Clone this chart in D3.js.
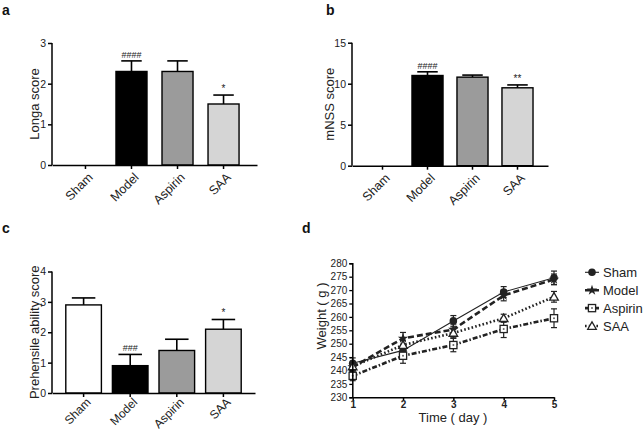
<!DOCTYPE html>
<html><head><meta charset="utf-8">
<script src="https://cdn.jsdelivr.net/npm/d3@7"></script>
<style>body{margin:0;background:#fff}svg{display:block;font-family:"Liberation Sans",Arial,sans-serif}</style>
</head><body><svg id="c" width="644" height="433"></svg>
<script>
const groups = ["Sham","Model","Aspirin","SAA"];
const barFills = ["#ffffff","#000000","#9b9b9b","#d5d5d5"];
const longaMean = [0, 2.3, 2.3, 1.5];
const longaErr  = [0, 0.26, 0.26, 0.22];
const longaMarks = ["","####","","*"];
const mnssMean = [0, 11.0, 10.8, 9.5];
const mnssErr  = [0, 0.45, 0.25, 0.35];
const mnssMarks = ["","####","","**"];
const prehMean = [2.9, 0.9, 1.4, 2.1];
const prehErr  = [0.23, 0.37, 0.37, 0.32];
const prehMarks = ["","###","","*"];
const days = [1,2,3,4,5];
const shamW = [242.7, 247.5, 258.5, 269.3, 274.6];
const shamE = [2, 2, 2, 2, 2.5];
const modelW = [241.3, 252.0, 255.3, 268.0, 274.0];
const modelE = [1.5, 2.2, 2, 2, 2];
const aspirinW = [238.0, 245.5, 249.5, 255.5, 259.5];
const aspirinE = [1.8, 2.8, 2.5, 3.2, 3.5];
const saaW = [241.5, 249.5, 254.0, 259.5, 267.5];
const saaE = [1.5, 1.8, 1.8, 1.5, 2];
const yTicksA = [0,1,2,3], yTicksB = [0,5,10,15], yTicksC = [0,1,2,3,4];
const yTicksD = [230,235,240,245,250,255,260,265,270,275,280];

const FONT = '"Liberation Sans",Arial,sans-serif';
const svg = d3.select("#c");

function barPanel(o){
  const g = svg.append("g");
  const x = d3.scaleBand().domain(groups).range([o.x0,o.x1]).paddingInner(o.pi).paddingOuter(o.po);
  const y = d3.scaleLinear().domain([0,o.max]).range([o.yb,o.yt]);
  groups.forEach((k,i)=>{
    if(o.mean[i] <= 0) return;
    const bx = x(k), bw = x.bandwidth(), cx = bx + bw/2;
    const top = y(o.mean[i]+o.err[i]);
    g.append("line").attr("x1",cx).attr("x2",cx).attr("y1",y(o.mean[i])).attr("y2",top).attr("stroke","#000").attr("stroke-width",1.6);
    g.append("line").attr("x1",cx-bw*0.33).attr("x2",cx+bw*0.33).attr("y1",top).attr("y2",top).attr("stroke","#000").attr("stroke-width",1.6);
    g.append("rect").attr("x",bx).attr("y",y(o.mean[i])).attr("width",bw).attr("height",y(0)-y(o.mean[i]))
      .attr("fill",barFills[i]).attr("stroke","#000").attr("stroke-width",1.4);
    if(o.marks[i]) g.append("text").attr("x",cx).attr("y",top-3).attr("text-anchor","middle")
      .attr("font-size",o.marks[i].startsWith("#")?9:10).attr("fill","#222").text(o.marks[i]);
  });
  const ya = g.append("g").attr("transform",`translate(${o.x0},0)`).call(d3.axisLeft(y).tickValues(o.ticks).tickFormat(d3.format("d")).tickSize(4).tickPadding(2));
  ya.attr("font-family",FONT);
  ya.select(".domain").attr("stroke-width",1.5).attr("d",`M-0,${o.yt}V${o.yb}`);
  ya.selectAll(".tick line").attr("stroke-width",1.5);
  ya.selectAll("text").attr("font-size",10.5).attr("fill","#222");
  const xa = g.append("g").attr("transform",`translate(0,${o.yb})`).call(d3.axisBottom(x).tickSize(4).tickSizeOuter(0));
  xa.attr("font-family",FONT);
  xa.select(".domain").attr("stroke-width",1.5);
  xa.selectAll(".tick line").attr("stroke-width",1.5);
  xa.selectAll("text").attr("font-size",o.lfs).attr("fill","#222").attr("text-anchor","end")
    .attr("y",0).attr("dy","0.35em").attr("transform",`translate(5,${o.loff}) rotate(-45)`);
  g.append("text").attr("transform",`translate(${o.lx},${(o.yt+o.yb)/2}) rotate(-90)`).attr("text-anchor","middle")
    .attr("font-size",13).attr("fill","#222").text(o.title);
  g.append("text").attr("x",o.px).attr("y",o.py).attr("font-size",14).attr("font-weight","bold").attr("fill","#111").text(o.letter);
}

barPanel({x0:52,x1:257,pi:0.326,po:0.39,max:3,yb:165,yt:43,mean:longaMean,err:longaErr,marks:longaMarks,ticks:yTicksA,title:"Longa score",lx:39,letter:"a",px:2,py:15,lfs:12.5,loff:10});
barPanel({x0:352,x1:548,pi:0.31,po:0.333,max:15,yb:165.7,yt:42.7,mean:mnssMean,err:mnssErr,marks:mnssMarks,ticks:yTicksB,title:"mNSS score",lx:334,letter:"b",px:326,py:15,lfs:12.5,loff:10});
barPanel({x0:52,x1:255,pi:0.236,po:0.296,max:4,yb:393,yt:271.5,mean:prehMean,err:prehErr,marks:prehMarks,ticks:yTicksC,title:"Prehensile ability score",lx:39,letter:"c",px:2,py:233,lfs:12,loff:7});

(function(){
  const g = svg.append("g");
  const x = d3.scaleLinear().domain([1,5]).range([352.7,554]);
  const y = d3.scaleLinear().domain([230,280]).range([397.3,263.3]);
  const series = [
    {name:"Sham",v:shamW,e:shamE,dash:null,w:1.1,m:"circle"},
    {name:"Model",v:modelW,e:modelE,dash:"6,3",w:2.6,m:"star"},
    {name:"Aspirin",v:aspirinW,e:aspirinE,dash:"5,2,1.5,2",w:2.6,m:"square"},
    {name:"SAA",v:saaW,e:saaE,dash:"1.6,2.2",w:2.6,m:"triangle"}
  ];
  const line = d3.line().x((d,i)=>x(days[i])).y(d=>y(d));
  function marker(sel, type, cx, cy){
    if(type==="circle") sel.append("circle").attr("cx",cx).attr("cy",cy).attr("r",3.8).attr("fill","#222");
    else if(type==="star") sel.append("path").attr("d",d3.symbol(d3.symbolStar,34)()).attr("transform",`translate(${cx},${cy})`).attr("fill","#222");
    else if(type==="square"){ sel.append("rect").attr("x",cx-3.6).attr("y",cy-3.6).attr("width",7.2).attr("height",7.2).attr("fill","#fff").attr("stroke","#222").attr("stroke-width",1.3);
      sel.append("circle").attr("cx",cx).attr("cy",cy).attr("r",1).attr("fill","#666"); }
    else sel.append("path").attr("d",d3.symbol(d3.symbolTriangle,32)()).attr("transform",`translate(${cx},${cy+0.8})`).attr("fill","#fff").attr("stroke","#222").attr("stroke-width",1.3);
  }
  series.forEach(s=>{
    s.v.forEach((v,i)=>{
      const cx = x(days[i]);
      g.append("line").attr("x1",cx).attr("x2",cx).attr("y1",y(v-s.e[i])).attr("y2",y(v+s.e[i])).attr("stroke","#222").attr("stroke-width",1.2);
      [v-s.e[i],v+s.e[i]].forEach(t=>g.append("line").attr("x1",cx-3).attr("x2",cx+3).attr("y1",y(t)).attr("y2",y(t)).attr("stroke","#222").attr("stroke-width",1.2));
    });
    g.append("path").datum(s.v).attr("d",line).attr("fill","none").attr("stroke","#222").attr("stroke-width",s.w)
      .attr("stroke-dasharray",s.dash);
  });
  series.forEach(s=>s.v.forEach((v,i)=>marker(g,s.m,x(days[i]),y(v))));
  const ya = g.append("g").attr("transform","translate(352.3,0)").call(d3.axisLeft(y).tickValues(yTicksD).tickSize(3).tickPadding(2));
  ya.attr("font-family",FONT);
  ya.select(".domain").attr("stroke-width",1.5);
  ya.selectAll(".tick line").attr("stroke-width",1.3);
  ya.selectAll("text").attr("font-size",10).attr("fill","#222");
  const xa = g.append("g").attr("transform","translate(0,397.3)").call(d3.axisBottom(x).tickValues(days).tickFormat(d3.format("d")).tickSize(3).tickPadding(1).tickSizeOuter(0));
  xa.attr("font-family",FONT);
  xa.select(".domain").attr("stroke-width",1.5);
  xa.selectAll(".tick line").attr("stroke-width",1.5);
  xa.selectAll("text").attr("font-size",10).attr("font-weight","bold").attr("fill","#222");
  g.append("text").attr("x",453).attr("y",422).attr("text-anchor","middle").attr("font-size",13).attr("fill","#222").text("Time ( day )");
  g.append("text").attr("transform",`translate(326,316) rotate(-90)`).attr("text-anchor","middle").attr("font-size",13).attr("fill","#222").text("Weight ( g )");
  g.append("text").attr("x",302).attr("y",233).attr("font-size",14).attr("font-weight","bold").attr("fill","#111").text("d");
  series.forEach((s,i)=>{
    const ly = 272.3 + i*17.9;
    g.append("line").attr("x1",585).attr("x2",599).attr("y1",ly).attr("y2",ly).attr("stroke","#222").attr("stroke-width",s.w).attr("stroke-dasharray",s.dash);
    marker(g,s.m,592,ly);
    g.append("text").attr("x",603).attr("y",ly+4.5).attr("font-size",13).attr("fill","#222").text(s.name);
  });
})();
</script></body></html>
